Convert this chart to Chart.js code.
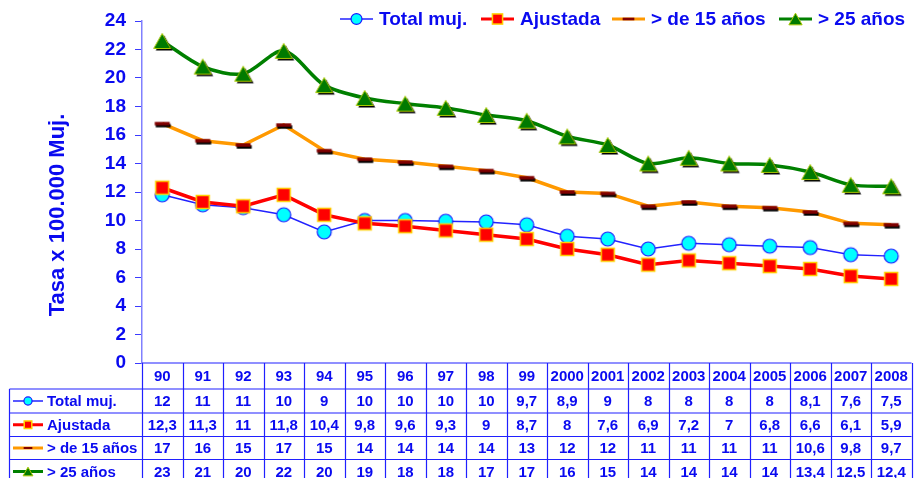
<!DOCTYPE html>
<html>
<head>
<meta charset="utf-8">
<script src="https://cdn.jsdelivr.net/npm/chart.js@4"></script>
<style>
  body { margin: 0; background: #fff; }
  #wrap { width: 923px; height: 478px; position: relative; }
</style>
</head>
<body>
<div id="wrap"><canvas id="tasaChart"></canvas></div>
<script>
// years on the x axis (and header row of the table)
const categories = ['90', '91', '92', '93', '94', '95', '96', '97', '98', '99',
  '2000', '2001', '2002', '2003', '2004', '2005', '2006', '2007', '2008'];

// plotted values
const totalMuj = [11.8, 11.1, 10.9, 10.4, 9.2, 10.0, 10.0, 9.95, 9.9, 9.7, 8.9, 8.7, 8.0, 8.4, 8.3, 8.2, 8.1, 7.6, 7.5];
const ajustada = [12.3, 11.3, 11.0, 11.8, 10.4, 9.8, 9.6, 9.3, 9.0, 8.7, 8.0, 7.6, 6.9, 7.2, 7.0, 6.8, 6.6, 6.1, 5.9];
const mayor15 = [16.8, 15.6, 15.3, 16.7, 14.9, 14.3, 14.1, 13.8, 13.5, 13.0, 12.0, 11.9, 11.0, 11.3, 11.0, 10.9, 10.6, 9.8, 9.7];
const mayor25 = [22.6, 20.8, 20.3, 21.9, 19.5, 18.6, 18.2, 17.9, 17.4, 17.0, 15.9, 15.3, 14.0, 14.4, 14.0, 13.9, 13.4, 12.5, 12.4];

// numbers as printed in the data table under the chart
const tablaTotal = ['12', '11', '11', '10', '9', '10', '10', '10', '10', '9,7', '8,9', '9', '8', '8', '8', '8', '8,1', '7,6', '7,5'];
const tablaAjustada = ['12,3', '11,3', '11', '11,8', '10,4', '9,8', '9,6', '9,3', '9', '8,7', '8', '7,6', '6,9', '7,2', '7', '6,8', '6,6', '6,1', '5,9'];
const tabla15 = ['17', '16', '15', '17', '15', '14', '14', '14', '14', '13', '12', '12', '11', '11', '11', '11', '10,6', '9,8', '9,7'];
const tabla25 = ['23', '21', '20', '22', '20', '19', '18', '18', '17', '17', '16', '15', '14', '14', '14', '14', '13,4', '12,5', '12,4'];

// y axis ticks
const yMin = 0, yMax = 24, yStep = 2;
const yTitle = 'Tasa x 100.000 Muj.';

const AZUL = '#0a0af0';
const FONT = '"Liberation Sans", Arial, sans-serif';

// draws one excel style marker, s = scale
function drawMarker(ctx, type, cx, cy, s, shadow) {
    ctx.save();
    if (type === 'circle') {
        ctx.beginPath();
        ctx.arc(cx, cy, 7 * s, 0, Math.PI * 2);
        ctx.fillStyle = '#00ffff';
        ctx.fill();
        ctx.lineWidth = 1.2;
        ctx.strokeStyle = '#1a1aff';
        ctx.stroke();
    } else if (type === 'square') {
        const h = 6.5 * s;
        ctx.fillStyle = '#ff0000';
        ctx.fillRect(cx - h, cy - h, 2 * h, 2 * h);
        ctx.lineWidth = 1.5;
        ctx.strokeStyle = '#ffd000';
        ctx.strokeRect(cx - h, cy - h, 2 * h, 2 * h);
    } else if (type === 'triangle') {
        const w = 8.5 * s, h = 7.5 * s;
        const tri = (dx, dy) => {
            ctx.beginPath();
            ctx.moveTo(cx + dx, cy - h + dy);
            ctx.lineTo(cx + w + dx, cy + h + dy);
            ctx.lineTo(cx - w + dx, cy + h + dy);
            ctx.closePath();
        };
        if (shadow) {
            tri(2, 2);
            ctx.fillStyle = '#000';
            ctx.fill();
        }
        tri(0, 0);
        ctx.fillStyle = '#007a00';
        ctx.fill();
        ctx.lineWidth = 1;
        ctx.strokeStyle = '#a8c800';
        ctx.stroke();
    } else if (type === 'dash') {
        const w = 7.5 * s, h = 1.7 * s;
        if (shadow) {
            ctx.fillStyle = '#000';
            ctx.fillRect(cx - w + 1, cy - h + 2, 2 * w, 2 * h);
        }
        ctx.fillStyle = '#800000';
        ctx.fillRect(cx - w, cy - h, 2 * w, 2 * h);
    }
    ctx.restore();
}

// markers as small canvases so chart.js can use them as pointStyle
function markerImage(type) {
    const c = document.createElement('canvas');
    c.width = 26;
    c.height = 26;
    drawMarker(c.getContext('2d'), type, 13, 13, 1, true);
    return c;
}

const estilos = {
    'Total muj.': { color: '#2222ff', width: 1.5, marker: 'circle' },
    'Ajustada': { color: '#ff0000', width: 3.5, marker: 'square' },
    '> de 15 años': { color: '#ff9900', width: 3.5, marker: 'dash' },
    '> 25 años': { color: '#008000', width: 3.5, marker: 'triangle' }
};

function makeDataset(name, data, order, tension) {
    const st = estilos[name];
    return {
        label: name,
        data: data,
        borderColor: st.color,
        borderWidth: st.width,
        pointStyle: markerImage(st.marker),
        pointRadius: 8,
        pointHoverRadius: 8,
        tension: tension,
        order: order,
        fill: false
    };
}

// legend, y title and data table are drawn here
const tablaPlugin = {
    id: 'tablaPlugin',
    afterDraw(chart) {
        const ctx = chart.ctx;
        const area = chart.chartArea;
        const xs = chart.scales.x;
        const colW = (area.right - area.left) / categories.length;

        ctx.save();

        // y axis title
        ctx.save();
        ctx.translate(58, 215);
        ctx.rotate(-Math.PI / 2);
        ctx.font = 'bold 22px ' + FONT;
        ctx.fillStyle = AZUL;
        ctx.textAlign = 'center';
        ctx.textBaseline = 'middle';
        ctx.fillText(yTitle, 0, 0);
        ctx.restore();

        // legend on top
        const legendOrder = ['Total muj.', 'Ajustada', '> de 15 años', '> 25 años'];
        const legendX = [340, 481, 612, 779];
        ctx.font = 'bold 19px ' + FONT;
        ctx.textBaseline = 'middle';
        ctx.textAlign = 'left';
        legendOrder.forEach((name, i) => {
            const st = estilos[name];
            const lx = legendX[i], ly = 19;
            ctx.beginPath();
            ctx.moveTo(lx, ly);
            ctx.lineTo(lx + 33, ly);
            ctx.strokeStyle = st.color;
            ctx.lineWidth = st.width === 1.5 ? 1.5 : 3;
            ctx.stroke();
            drawMarker(ctx, st.marker, lx + 16.5, ly, 0.78, false);
            ctx.fillStyle = AZUL;
            ctx.fillText(name, lx + 39, ly + 1);
        });

        // table grid
        const top = area.bottom;
        const rowY = [top, top + 26, top + 50, top + 73.5, top + 96.5];
        const bottom = chart.height + 5;
        const leftEdge = 9.5;
        ctx.strokeStyle = '#2020ff';
        ctx.lineWidth = 1.2;
        ctx.beginPath();
        ctx.moveTo(area.left, top);
        ctx.lineTo(area.right, top);
        for (let r = 1; r < rowY.length; r++) {
            ctx.moveTo(leftEdge, rowY[r]);
            ctx.lineTo(area.right, rowY[r]);
        }
        for (let i = 0; i <= categories.length; i++) {
            const xb = Math.round(area.left + i * colW) + 0.5;
            ctx.moveTo(xb, top);
            ctx.lineTo(xb, bottom);
        }
        ctx.moveTo(leftEdge, rowY[1]);
        ctx.lineTo(leftEdge, bottom);
        ctx.stroke();

        // header years
        ctx.fillStyle = AZUL;
        ctx.font = 'bold 15px ' + FONT;
        ctx.textAlign = 'center';
        categories.forEach((c, i) => {
            ctx.fillText(c, xs.getPixelForValue(i), (rowY[0] + rowY[1]) / 2 + 1);
        });

        // rows
        const filas = [
            ['Total muj.', tablaTotal],
            ['Ajustada', tablaAjustada],
            ['> de 15 años', tabla15],
            ['> 25 años', tabla25]
        ];
        filas.forEach((fila, r) => {
            const yc = r < 3 ? (rowY[r + 1] + rowY[r + 2]) / 2 : rowY[4] + 12;
            const st = estilos[fila[0]];
            ctx.beginPath();
            ctx.moveTo(13, yc);
            ctx.lineTo(43, yc);
            ctx.strokeStyle = st.color;
            ctx.lineWidth = st.width === 1.5 ? 1.5 : 3;
            ctx.stroke();
            drawMarker(ctx, st.marker, 28, yc, 0.58, false);
            ctx.fillStyle = AZUL;
            ctx.textAlign = 'left';
            ctx.fillText(fila[0], 47, yc + 1);
            ctx.textAlign = 'center';
            fila[1].forEach((v, i) => {
                ctx.fillText(v, xs.getPixelForValue(i), yc + 1);
            });
        });

        ctx.restore();
    }
};

const canvas = document.getElementById('tasaChart');
const ctx = canvas.getContext('2d');

new Chart(ctx, {
    type: 'line',
    data: {
        labels: categories,
        datasets: [
            makeDataset('Total muj.', totalMuj, 2, 0),
            makeDataset('Ajustada', ajustada, 1, 0),
            makeDataset('> de 15 años', mayor15, 3, 0),
            makeDataset('> 25 años', mayor25, 4, 0.3)
        ]
    },
    options: {
        responsive: true,
        maintainAspectRatio: false,
        animation: false,
        layout: { padding: { top: 21, right: 0, bottom: 115, left: 0 } },
        plugins: {
            legend: { display: false },
            tooltip: { enabled: false }
        },
        scales: {
            x: {
                type: 'category',
                offset: true,
                display: false
            },
            y: {
                min: yMin,
                max: yMax,
                afterFit(scale) { scale.width = 142; },
                ticks: {
                    stepSize: yStep,
                    color: AZUL,
                    padding: 9,
                    font: { family: FONT, size: 19, weight: 'bold' }
                },
                grid: {
                    drawOnChartArea: false,
                    drawTicks: true,
                    tickLength: 7,
                    color: '#3a3aff'
                },
                border: { color: '#8080ff', width: 1.5 }
            }
        }
    },
    plugins: [tablaPlugin]
});
</script>
</body>
</html>
